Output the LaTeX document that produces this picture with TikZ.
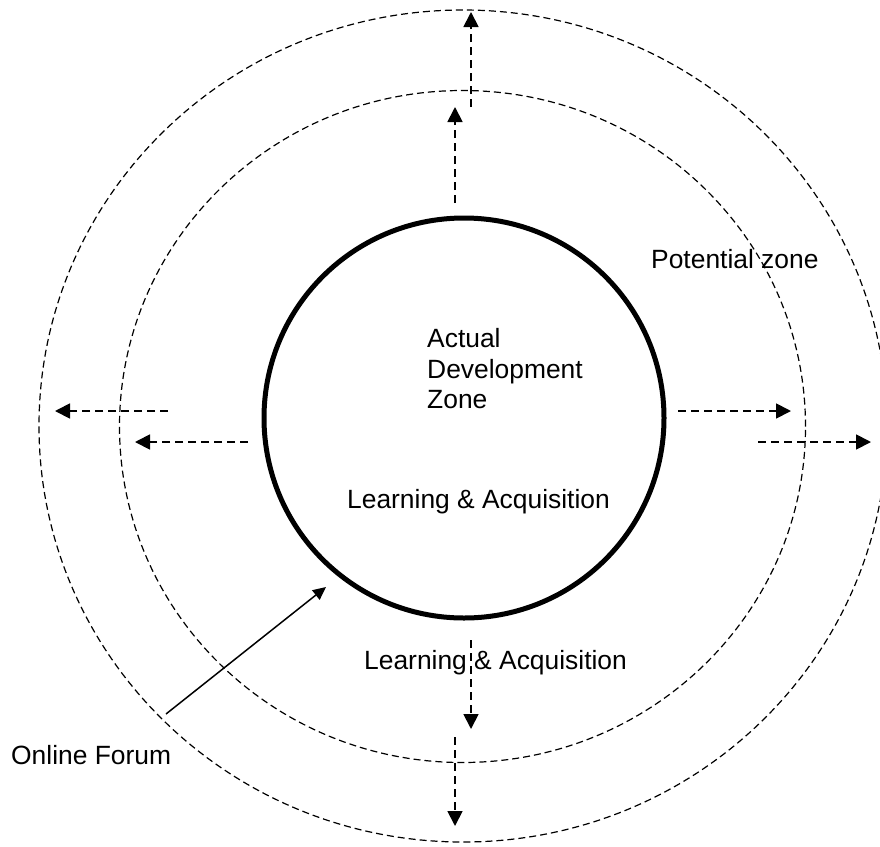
\documentclass[tikz,border=0pt]{standalone}
\usepackage{fontspec}
\setmainfont{Liberation Sans}
\usetikzlibrary{arrows.meta,positioning}

\begin{document}
\begin{tikzpicture}[x=1pt, y=-1pt, node distance = 20pt, font=\fontsize{26.4}{30.5}\selectfont,
    zone/.style={draw, dash pattern=on 7pt off 4pt, line width=1.2pt},
    spread/.style={-{Triangle[length=15pt, width=15pt]}, dash pattern=on 8pt off 5pt, line width=1.8pt}]
    \path[use as bounding box, fill=white] (0,0) rectangle (880,846);

    % zones
    \draw[zone] (463,426) ellipse [x radius=424pt, y radius=416pt];
    \draw[zone] (462.5,426.5) ellipse [x radius=343pt, y radius=336pt];
    \node[draw, circle, line width=5pt, minimum size=400pt, inner sep=0pt] at (464, 418) (ADZ) {};

    % labels
    \node[inner sep=0pt, align=left, anchor=west] at (427, 369) (actual) {Actual\\Development\\Zone};
    \node[inner sep=0pt, anchor=base] at (478.5, 508) (learnIn) {Learning \& Acquisition};
    \node[inner sep=0pt, anchor=base west] at (651, 268) (potential) {Potential zone};
    \node[inner sep=0pt, anchor=base west] at (364, 669) (learnOut) {Learning \& Acquisition};
    \node[inner sep=0pt, anchor=base west] at (11, 764) (forum) {Online Forum};

    % arrow ends
    \coordinate (upA) at (455, 203);   \coordinate (upB) at (455, 107);
    \coordinate (upC) at (471, 107);   \coordinate (upD) at (471, 12);
    \coordinate (leftA) at (248, 442); \coordinate (leftB) at (135, 442);
    \coordinate (leftC) at (168, 411); \coordinate (leftD) at (55, 411);
    \coordinate (rightA) at (678, 411); \coordinate (rightB) at (791, 411);
    \coordinate (rightC) at (758, 442); \coordinate (rightD) at (871, 442);
    \coordinate (downA) at (471, 640); \coordinate (downB) at (471, 729);
    \coordinate (downC) at (455, 737); \coordinate (downD) at (455, 826);
    \coordinate (forumA) at (166, 714); \coordinate (forumB) at (326, 587);

    \draw[spread] (upA) -- (upB);
    \draw[spread] (upC) -- (upD);
    \draw[spread] (leftA) -- (leftB);
    \draw[spread] (leftC) -- (leftD);
    \draw[spread] (rightA) -- (rightB);
    \draw[spread] (rightC) -- (rightD);
    \draw[spread] (downA) -- (downB);
    \draw[spread] (downC) -- (downD);

    \draw[-{Triangle[length=13pt, width=12pt]}, line width=1.5pt] (forumA) -- (forumB);
%    \draw[->] (forum) -- (ADZ);

\end{tikzpicture}
\end{document}
